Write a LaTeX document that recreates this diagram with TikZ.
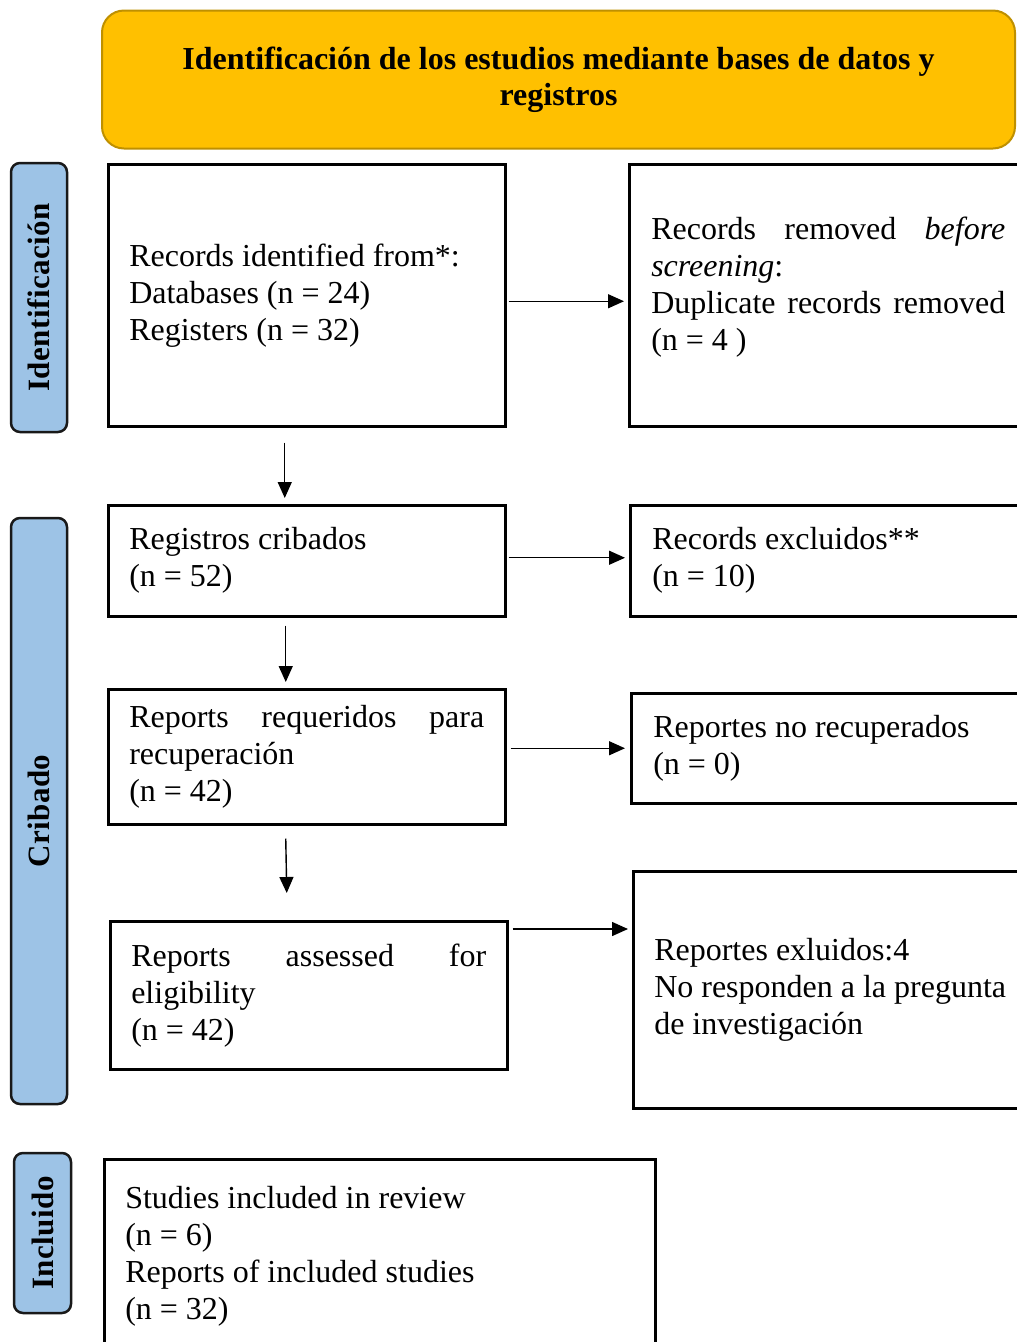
\documentclass[tikz,border=0pt]{standalone}
\usepackage{fontspec}
\setmainfont{Liberation Serif}
\usetikzlibrary{arrows.meta,calc}

\definecolor{headfill}{HTML}{FFC000}
\definecolor{headline}{HTML}{BF9000}
\definecolor{sidefill}{HTML}{9DC3E6}

\begin{document}
\begin{tikzpicture}[x=1pt,y=-1pt,
  box/.style={draw=black, line width=2.5pt, anchor=north west, inner xsep=21pt,
    text width=355pt, align=justify, font=\fontsize{32}{37}\selectfont},
  sidebox/.style={draw=black!90, fill=sidefill, line width=2.5pt, rounded corners=9pt,
    rotate=90, inner sep=0pt, font=\fontsize{31}{34}\selectfont\bfseries\addfontfeatures{LetterSpace=1.5}},
  arr/.style={line width=1.4pt, -{Triangle[length=16pt,width=14pt]}}]

\clip (0,0) rectangle (1017,1342);

% header
\node[draw=headline, fill=headfill, line width=2pt, rounded corners=22pt, anchor=north west,
  minimum width=913pt, minimum height=138pt, align=center,
  font=\fontsize{32}{36}\selectfont\bfseries] (head) at (101,9.5)
  {Identificación de los estudios mediante bases de datos y\\registros};

% side labels
\node[sidebox, minimum width=269pt, minimum height=56pt] (sideId) at (39,297.5) {Identificación};
\node[sidebox, minimum width=586pt, minimum height=56pt] (sideCr) at (39,811) {Cribado};
\node[sidebox, minimum width=160pt, minimum height=57pt] (sideIn) at (42.5,1233) {Incluido};

% identification
\node[box, minimum height=262pt] (ident) at (107,163)
  {Records identified from*:\\Databases (n = 24)\\Registers (n = 32)};
\node[box, minimum height=262pt, text width=354pt, inner xsep=22pt] (removed) at (628,163)
  {Records removed \emph{before}\linebreak \emph{screening}:\\Duplicate records removed\linebreak (n = 4 )\\[-13pt]\mbox{}};

% screening
\node[box, minimum height=111pt] (screen) at (107,504)
  {Registros cribados\\(n = 52)};
\node[box, minimum height=111pt, inner xsep=22pt] (excl) at (629,504)
  {Records excluidos**\\(n = 10)};

\node[box, minimum height=135pt] (sought) at (107,688)
  {Reports requeridos para\linebreak recuperación\\(n = 42)};
\node[box, minimum height=110pt, inner xsep=22pt] (notret) at (630,692)
  {Reportes no recuperados\\(n = 0)};

\node[box, minimum height=148pt] (elig) at (109,920)
  {Reports assessed for\linebreak eligibility\\(n = 42)};
\node[box, minimum height=237pt, text width=362pt] (rexcl) at (632,870)
  {Reportes exluidos:4\\No responden a la pregunta\\de investigación};

% included
\node[box, minimum height=195pt, text width=509pt] (incl) at (103,1158)
  {Studies included in review\\(n = 6)\\Reports of included studies\\(n = 32)};

% horizontal arrows
\draw[arr] ([xshift=2pt,yshift=-6pt]ident.east) -- ($(removed.west |- ident.east)+(-4,6)$);
\draw[arr] ([xshift=2pt,yshift=3pt]screen.east) -- ($(excl.west |- screen.east)+(-4,-3)$);
\coordinate (s1) at ([xshift=4pt]sought.east |- notret.east);
\draw[arr] (s1) -- ($(notret.west)+(-5,0)$);
\coordinate (g1) at ([xshift=4pt,yshift=-9pt]elig.north east);
\draw[arr] (g1) -- ($(g1 -| rexcl.west)+(-4,0)$);

% vertical arrows
\draw[arr] ([xshift=-22pt,yshift=-15pt]ident.south) -- ([xshift=-22pt,yshift=6pt]screen.north);
\draw[arr] ([xshift=-21pt,yshift=-8pt]screen.south) -- ([xshift=-21pt,yshift=6pt]sought.north);
\draw[arr] ([xshift=-21pt,yshift=-13pt]sought.south) -- ([xshift=-22pt,yshift=27pt]elig.north);

\end{tikzpicture}
\end{document}
